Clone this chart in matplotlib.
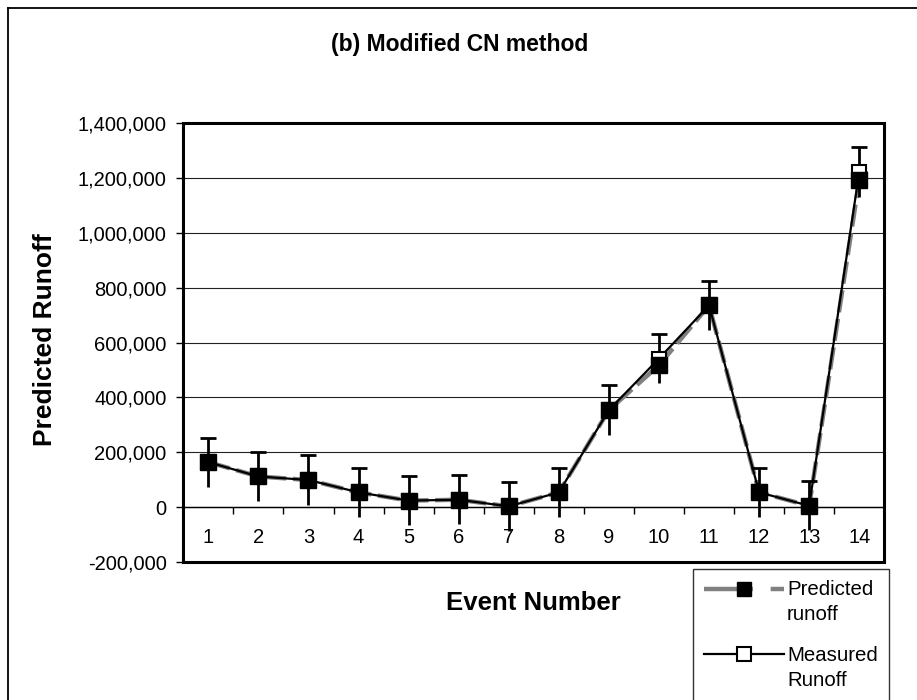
import matplotlib
matplotlib.use("Agg")
import matplotlib.pyplot as plt
from matplotlib.lines import Line2D
from matplotlib.patches import Rectangle
from matplotlib.ticker import FuncFormatter, FixedLocator
from matplotlib.legend_handler import HandlerLine2D
import numpy as np

plt.rcParams['font.family'] = ['Liberation Sans', 'DejaVu Sans']

events = list(range(1, 15))
event_labels = [str(e) for e in events]
predicted = [164000, 112000, 99000, 54000, 24000, 27000, 3000, 54000,
             354000, 518000, 736000, 54000, 5000, 1193000]
measured = [164000, 112000, 99000, 54000, 24000, 27000, 3000, 54000,
            354000, 542000, 736000, 54000, 5000, 1222000]
error = [90000] * 14
y_ticks = [-200000, 0, 200000, 400000, 600000, 800000, 1000000, 1200000, 1400000]

W, H = 917, 700
fig = plt.figure(figsize=(W / 100, H / 100), dpi=100)
ax = fig.add_axes([183.3 / W, 1 - 562 / H, (884.3 - 183.3) / W, (562 - 123.3) / H])

x = np.array(events, dtype=float)
DASH = (0, (5, 1.5))

ax.set_ylim(-200000, 1400000)
ax.set_xlim(0.5, 14.5)
ax.yaxis.set_major_locator(FixedLocator(y_ticks))
ax.yaxis.set_major_formatter(FuncFormatter(lambda v, p: f"{int(v):,}"))
ax.grid(axis='y', color='#222222', linewidth=0.8, zorder=0)
ax.set_axisbelow(True)

ax.plot(x, predicted, color='#808080', linewidth=3.2, linestyle=DASH, zorder=2)
ax.plot(x, measured, color='black', linewidth=1.6, zorder=3)
ax.errorbar(x, measured, yerr=[np.zeros(len(error)), error], fmt='none',
            ecolor='black', elinewidth=2, capsize=6, capthick=2, zorder=3.5)
ax.vlines(x, np.array(measured) - np.array(error), measured, color='black',
          linewidth=2, zorder=3.5)
ax.plot(x, measured, linestyle='none', marker='s', markersize=10,
        markerfacecolor='white', markeredgecolor='black', markeredgewidth=1.5, zorder=4)
ax.plot(x, predicted, linestyle='none', marker='s', markersize=11,
        markerfacecolor='black', markeredgecolor='black', zorder=5)

for s in ['top', 'right', 'left']:
    ax.spines[s].set_visible(False)
ax.spines['bottom'].set_position(('data', 0))
ax.spines['bottom'].set_linewidth(1)
ax.add_patch(Rectangle((0, 0), 1, 1, transform=ax.transAxes, fill=False,
                       edgecolor='black', linewidth=2.2, zorder=6, clip_on=False))

ax.xaxis.set_major_locator(FixedLocator(np.arange(1.5, 14.5, 1.0)))
ax.xaxis.set_major_formatter(FuncFormatter(lambda v, p: ""))
ax.set_xticks(x, event_labels, minor=True)
ax.tick_params(axis='x', which='major', direction='out', length=5, width=1)
ax.tick_params(axis='x', which='minor', length=0, pad=15, labelsize=14.5)
ax.tick_params(axis='y', direction='out', length=5, width=1, pad=7, labelsize=14.5)

fig.text(460 / W, 1 - 45 / H, "(b) Modified CN method", ha='center', va='center',
         fontsize=16.5, fontweight='bold')
fig.text(45 / W, 1 - 340 / H, "Predicted Runoff", ha='center', va='center',
         rotation=90, fontsize=19, fontweight='bold')
fig.text(533 / W, 1 - 603 / H, "Event Number", ha='center', va='center',
         fontsize=18.5, fontweight='bold')


class UpHandler(HandlerLine2D):
    shift = 10.0

    def create_artists(self, legend, orig_handle, xdescent, ydescent, width,
                       height, fontsize, trans):
        return super().create_artists(legend, orig_handle, xdescent,
                                      ydescent - 2 * self.shift, width, height,
                                      fontsize, trans)


h_pred = Line2D([], [], color='#808080', linewidth=3.2, linestyle=(0, (11, 4)),
                marker='s', markersize=10.5, markerfacecolor='black', markeredgecolor='black')
h_meas = Line2D([], [], color='black', linewidth=1.6, marker='s', markersize=10,
                markerfacecolor='white', markeredgecolor='black', markeredgewidth=1.5)
leg = fig.legend([h_pred, h_meas], ["Predicted\nrunoff", "Measured\nRunoff"],
                 loc='upper left', bbox_to_anchor=(693 / W, 1 - 569 / H),
                 frameon=True, fancybox=False, edgecolor='black', fontsize=14.7,
                 handlelength=3.9, handletextpad=0.15, borderpad=0.55,
                 labelspacing=1.08, borderaxespad=0, numpoints=1,
                 handler_map={Line2D: UpHandler()})
for t in leg.get_texts():
    t.set_linespacing(1.38)
leg.get_frame().set_linewidth(1)

fig.add_artist(Line2D([8 / W, 8 / W], [0, 1 - 8 / H], color='black', linewidth=1.3))
fig.add_artist(Line2D([8 / W, 1], [1 - 8 / H, 1 - 8 / H], color='black', linewidth=1.3))

fig.savefig("out.png", dpi=100)
